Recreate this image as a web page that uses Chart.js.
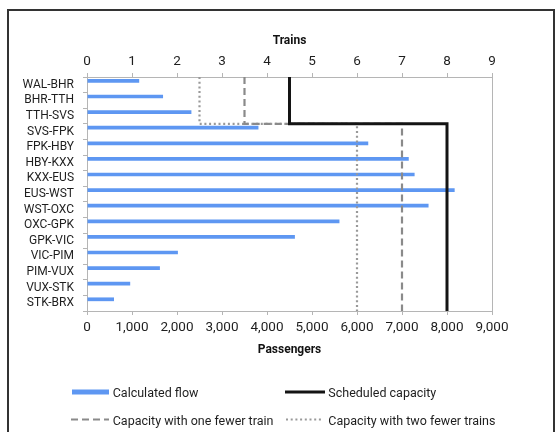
<!DOCTYPE html>
<html>
<head>
<meta charset="utf-8">
<script src="https://cdn.jsdelivr.net/npm/chart.js@4/dist/chart.umd.min.js"></script>
<style>
  html, body { margin: 0; padding: 0; background: #fff; overflow: hidden; width: 560px; height: 432px; }
  #frame { position: absolute; left: 7px; top: 9px; width: 548px; height: 520px; box-sizing: border-box; border: 2px solid #333; }
  #wrap { position: absolute; left: 0; top: 0; width: 560px; height: 432px; }
</style>
</head>
<body>
<div id="frame"></div>
<div id="wrap"><canvas id="c" width="560" height="432"></canvas></div>
<script>
// ---- data ----
const categories = ['WAL-BHR','BHR-TTH','TTH-SVS','SVS-FPK','FPK-HBY','HBY-KXX','KXX-EUS','EUS-WST','WST-OXC','OXC-GPK','GPK-VIC','VIC-PIM','PIM-VUX','VUX-STK','STK-BRX'];
const calculatedFlow = [1160, 1690, 2320, 3810, 6250, 7150, 7280, 8170, 7590, 5610, 4620, 2020, 1620, 960, 600];
const scheduledCapacity = [4500, 4500, 4500, 8000, 8000, 8000, 8000, 8000, 8000, 8000, 8000, 8000, 8000, 8000, 8000];
const capacityOneFewer = [3500, 3500, 3500, 7000, 7000, 7000, 7000, 7000, 7000, 7000, 7000, 7000, 7000, 7000, 7000];
const capacityTwoFewer = [2500, 2500, 2500, 6000, 6000, 6000, 6000, 6000, 6000, 6000, 6000, 6000, 6000, 6000, 6000];
const passengerTicks = [0, 1000, 2000, 3000, 4000, 5000, 6000, 7000, 8000, 9000];
const trainTicks = [0, 1, 2, 3, 4, 5, 6, 7, 8, 9];

// step line: each category's capacity spans that category's band
function stepPoints(caps) {
  const pts = [];
  caps.forEach((c, i) => { pts.push({x: c, y: i - 0.5}); pts.push({x: c, y: i + 0.5}); });
  return pts;
}

const FONT = 'Roboto, "Liberation Sans", Arial, sans-serif';
const TXT = '#1e1e1e';
const AXIS = '#b5b5b5';

const legendPlugin = {
  id: 'gridLegend',
  afterDraw(chart) {
    const ctx = chart.ctx;
    const ds = chart.data.datasets;
    const items = [
      {d: ds[0], kind: 'bar',  x: 72,  y: 394, w: 37},
      {d: ds[3], kind: 'line', x: 285, y: 394, w: 40},
      {d: ds[2], kind: 'line', x: 71,  y: 421.5, w: 38},
      {d: ds[1], kind: 'line', x: 286, y: 421.5, w: 36}
    ];
    ctx.save();
    items.forEach(it => {
      if (it.kind === 'bar') {
        ctx.fillStyle = it.d.backgroundColor;
        ctx.fillRect(it.x, it.y - 4.5, it.w, 5);
      } else {
        ctx.strokeStyle = it.d.borderColor;
        ctx.lineWidth = it.d.borderWidth;
        ctx.setLineDash(it.d.borderDash || []);
        ctx.beginPath();
        ctx.moveTo(it.x, it.y - 2);
        ctx.lineTo(it.x + it.w, it.y - 2);
        ctx.stroke();
        ctx.setLineDash([]);
      }
      ctx.fillStyle = TXT;
      ctx.font = '12.5px ' + FONT;
      ctx.textBaseline = 'middle';
      ctx.textAlign = 'left';
      ctx.fillText(it.d.label, it.kind === 'bar' ? 112.7 : (it.x < 200 ? 112.7 : 328.3), it.y);
    });
    ctx.restore();
  }
};

new Chart(document.getElementById('c'), {
  type: 'bar',
  data: {
    labels: categories,
    datasets: [
      { label: 'Calculated flow', data: calculatedFlow, backgroundColor: '#5e97f2', borderWidth: 0,
        categoryPercentage: 1.0, barPercentage: 0.48, xAxisID: 'x', yAxisID: 'y', order: 4 },
      { type: 'line', label: 'Capacity with two fewer trains', data: stepPoints(capacityTwoFewer),
        borderColor: '#999999', borderWidth: 2.2, borderDash: [2, 2.7], pointRadius: 0, tension: 0,
        fill: false, xAxisID: 'x', yAxisID: 'yl', order: 3 },
      { type: 'line', label: 'Capacity with one fewer train', data: stepPoints(capacityOneFewer),
        borderColor: '#8a8a8a', borderWidth: 2.2, borderDash: [7, 4], pointRadius: 0, tension: 0,
        fill: false, xAxisID: 'x', yAxisID: 'yl', order: 2 },
      { type: 'line', label: 'Scheduled capacity', data: stepPoints(scheduledCapacity),
        borderColor: '#141414', borderWidth: 3, pointRadius: 0, tension: 0,
        fill: false, xAxisID: 'x', yAxisID: 'yl', order: 1 }
    ]
  },
  options: {
    indexAxis: 'y',
    responsive: false,
    animation: false,
    events: [],
    layout: { padding: { left: 0, right: 68, top: 30, bottom: 71 } },
    plugins: { legend: { display: false }, tooltip: { enabled: false } },
    scales: {
      y: {
        type: 'category', position: 'left', offset: true,
        grid: { display: true, drawOnChartArea: false, offset: true, tickLength: 4, color: AXIS },
        border: { display: true, color: AXIS, width: 1 },
        ticks: { color: TXT, font: { family: FONT, size: 12 }, padding: 9, autoSkip: false },
        afterFit(s) { s.width = 87; }
      },
      yl: {
        type: 'linear', position: 'right', min: -0.5, max: 14.5, reverse: true, offset: false,
        ticks: { display: false }, grid: { display: false, drawTicks: false, offset: false },
        border: { display: true, color: AXIS, width: 1 },
        afterFit(s) { s.width = 0; }
      },
      x: {
        type: 'linear', position: 'bottom', min: 0, max: 9000, offset: false,
        afterBuildTicks(s) { s.ticks = passengerTicks.map(v => ({ value: v })); },
        ticks: { color: TXT, font: { family: FONT, size: 13.5 }, padding: 5, maxRotation: 0,
                 callback: v => v.toLocaleString('en-US') },
        grid: { display: true, drawOnChartArea: false, tickLength: 4, color: AXIS },
        border: { display: true, color: AXIS, width: 1 },
        title: { display: true, text: 'Passengers', color: '#111', font: { family: FONT, size: 12, weight: 'bold' }, padding: { top: 4, bottom: 4 } },
        afterFit(s) { s.height = 50; }
      },
      x2: {
        type: 'linear', position: 'top', min: 0, max: 9, offset: false,
        afterBuildTicks(s) { s.ticks = trainTicks.map(v => ({ value: v })); },
        ticks: { color: TXT, font: { family: FONT, size: 13.5 }, padding: 3, maxRotation: 0 },
        grid: { display: true, drawOnChartArea: false, tickLength: 4, color: AXIS },
        border: { display: true, color: AXIS, width: 1 },
        title: { display: true, text: 'Trains', color: '#111', font: { family: FONT, size: 12, weight: 'bold' }, padding: { top: 4, bottom: 4 } },
        afterFit(s) { s.height = 47; }
      }
    }
  },
  plugins: [legendPlugin]
});
</script>
</body>
</html>
